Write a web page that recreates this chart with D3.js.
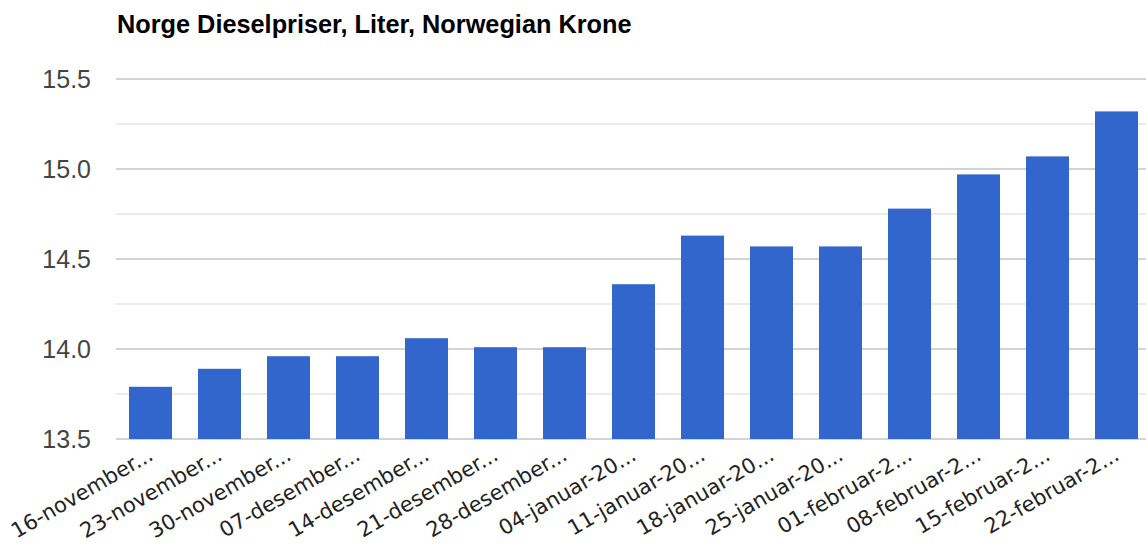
<!DOCTYPE html>
<html><head><meta charset="utf-8">
<script src="https://cdn.jsdelivr.net/npm/d3@7"></script>
<style>body{margin:0;background:#fff}svg{display:block}</style>
</head><body>
<svg id="c" width="1146" height="545"></svg>
<script>
const categories = ["16-november...","23-november...","30-november...","07-desember...","14-desember...","21-desember...","28-desember...","04-januar-20...","11-januar-20...","18-januar-20...","25-januar-20...","01-februar-2...","08-februar-2...","15-februar-2...","22-februar-2..."];
const values = [13.79,13.89,13.96,13.96,14.06,14.01,14.01,14.36,14.63,14.57,14.57,14.78,14.97,15.07,15.32];
const majorTicks = [13.5,14.0,14.5,15.0,15.5];
const minorTicks = [13.75,14.25,14.75,15.25];
const title = "Norge Dieselpriser, Liter, Norwegian Krone";

const svg = d3.select("#c");
const x = d3.scaleBand().domain(categories).range([116,1151]).paddingInner(0.377).paddingOuter(0.1885);
const y = d3.scaleLinear().domain([13.5,15.5]).range([439,79]);

svg.append("text").attr("x",117).attr("y",33).attr("font-family","Liberation Sans, Arial, sans-serif")
  .attr("font-weight","bold").attr("font-size",25.3).attr("fill","#000").text(title);

svg.selectAll("line.minor").data(minorTicks).join("line").attr("class","minor")
  .attr("x1",116).attr("x2",1146).attr("y1",d=>y(d)).attr("y2",d=>y(d))
  .attr("stroke","#ebebeb").attr("stroke-width",2);
svg.selectAll("line.major").data(majorTicks).join("line").attr("class","major")
  .attr("x1",116).attr("x2",1146).attr("y1",d=>y(d)).attr("y2",d=>y(d))
  .attr("stroke","#d3d3d3").attr("stroke-width",2);

svg.selectAll("text.yl").data(majorTicks).join("text").attr("class","yl")
  .attr("x",91).attr("y",d=>y(d)+9).attr("text-anchor","end")
  .attr("font-family","Liberation Sans, Arial, sans-serif").attr("font-size",25).attr("fill","#444")
  .text(d=>d3.format(".1f")(d));

svg.selectAll("rect.bar").data(values).join("rect").attr("class","bar")
  .attr("x",(d,i)=>x(categories[i])).attr("width",x.bandwidth())
  .attr("y",d=>y(d)).attr("height",d=>y(13.5)-y(d)).attr("fill","#3366cc");

svg.selectAll("text.xl").data(categories).join("text").attr("class","xl")
  .attr("transform",d=>`translate(${x(d)+x.bandwidth()/2+4},459) rotate(-30)`)
  .attr("text-anchor","end").attr("font-family","DejaVu Sans, Verdana, sans-serif")
  .attr("font-size",21).attr("fill","#222").text(d=>d);
</script>
</body></html>
